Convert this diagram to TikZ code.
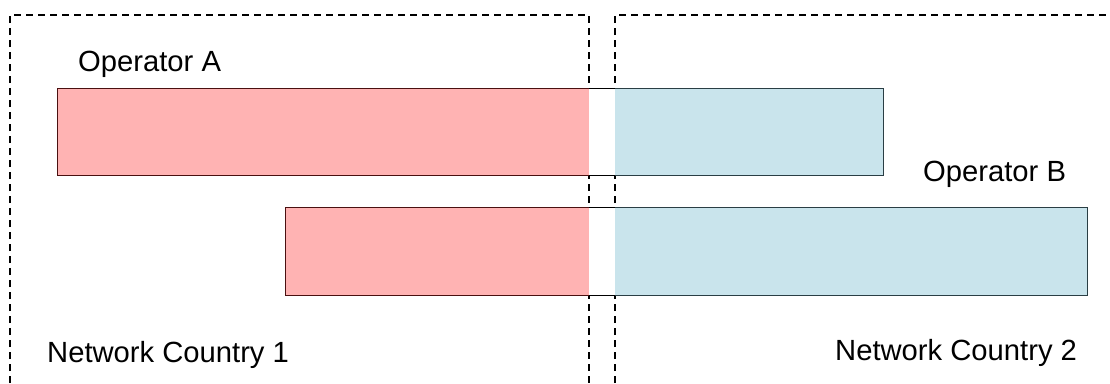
\documentclass[tikz,border=0pt]{standalone}
\usepackage{fontspec}
\setmainfont{Liberation Sans}
\definecolor{opred}{HTML}{FFB3B3}
\definecolor{opblue}{HTML}{C9E4EC}
\definecolor{redline}{HTML}{4A1010}
\definecolor{blueline}{HTML}{2A3E44}
\begin{document}
\begin{tikzpicture}[x=1pt,y=-1pt,
  lbl/.style={anchor=base west,inner sep=0pt,font=\fontsize{29.2}{35}\selectfont},
  seg/.style={anchor=north west,inner sep=0pt,outer sep=0pt,draw=none},
  redseg/.style={seg,fill=opred},
  blueseg/.style={seg,fill=opblue},
  gapseg/.style={seg,fill=white},
  rededge/.style={draw=redline,line width=1pt},
  blueedge/.style={draw=blueline,line width=1pt},
  gapedge/.style={draw=black,line width=1pt},
  region/.style={draw=black,line width=1.5pt,dash pattern=on 7pt off 5pt}]
\useasboundingbox (0,0) rectangle (1110,383);
% dashed regions
\draw[region] (10,383) -- (10,15) -- (589,15) -- (589,383);
\draw[region] (615,383) -- (615,15) -- (1110,15);
% bar A
\node[redseg,minimum width=532pt,minimum height=87pt] (a1) at (57,88) {};
\node[gapseg,minimum width=26pt,minimum height=87pt] (a2) at (589,88) {};
\node[blueseg,minimum width=268pt,minimum height=87pt] (a3) at (615,88) {};
\draw[rededge] (a1.north east) -- (a1.north west) -- (a1.south west) -- (a1.south east);
\draw[blueedge] (a3.north west) -- (a3.north east) -- (a3.south east) -- (a3.south west);
\draw[gapedge] (a1.north east) -- (a3.north west) (a1.south east) -- (a3.south west);
% bar B
\node[redseg,minimum width=304pt,minimum height=88pt] (b1) at (285,207) {};
\node[gapseg,minimum width=26pt,minimum height=88pt] (b2) at (589,207) {};
\node[blueseg,minimum width=472pt,minimum height=88pt] (b3) at (615,207) {};
\draw[rededge] (b1.north east) -- (b1.north west) -- (b1.south west) -- (b1.south east);
\draw[blueedge] (b3.north west) -- (b3.north east) -- (b3.south east) -- (b3.south west);
\draw[gapedge] (b1.north east) -- (b3.north west) (b1.south east) -- (b3.south west);
% labels
\node[lbl] (opa) at (78,71) {Operator A};
\node[lbl] (opb) at (923,181.7) {Operator B};
\node[lbl] (nc1) at (47,362.7) {Network Country 1};
\node[lbl] (nc2) at (835,360) {Network Country 2};
\end{tikzpicture}
\end{document}
